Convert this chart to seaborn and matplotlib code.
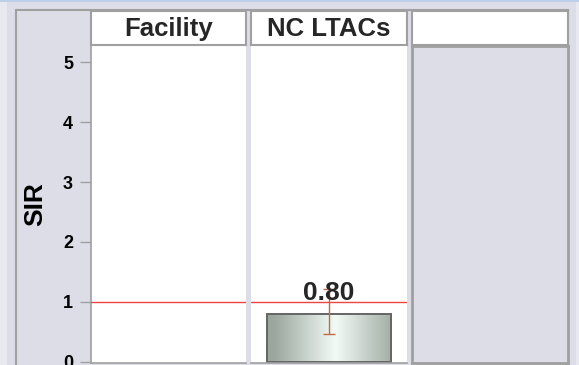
import numpy as np
import matplotlib
matplotlib.use("Agg")
import matplotlib.pyplot as plt
from matplotlib.patches import Rectangle
from matplotlib.colors import LinearSegmentedColormap
import seaborn as sns

# values
panels = ["Facility", "NC LTACs", ""]
sir = [np.nan, 0.80, np.nan]
ci_low = [np.nan, 0.47, np.nan]
ci_high = [np.nan, 1.22, np.nan]
sir_labels = ["", "0.80", ""]
yticks = [0, 1, 2, 3, 4, 5]
ref_line = 1.0

W, H = 579, 365
sns.set_theme(style="white")
plt.rcParams["font.family"] = ["Liberation Sans", "DejaVu Sans"]

BG = "#DDDDE8"
GREY = "#A0A0A0"

fig = plt.figure(figsize=(W / 100, H / 100), dpi=100, facecolor=BG)


def box(x0, y0, x1, y1):
    # pixel box with top-left origin -> figure fraction rect
    return [x0 / W, 1 - y1 / H, (x1 - x0) / W, (y1 - y0) / H]


def deco(x0, y0, x1, y1, **kw):
    r = Rectangle((x0 / W, 1 - y1 / H), (x1 - x0) / W, (y1 - y0) / H,
                  transform=fig.transFigure, zorder=-1, **kw)
    fig.patches.append(r)


# window chrome around the graph
deco(0, 0, 7, H, facecolor="#E8E8F0", edgecolor="none")
deco(0, 0, W, 2, facecolor="#BCD0EC", edgecolor="none")
deco(576, 2, W, H, facecolor="#E8E8F0", edgecolor="none")
deco(16, 10, 568, H + 5, facecolor="none", edgecolor=GREY, lw=1.5)

xpos = [(91, 246), (251, 407), (412, 568)]
grad_cmap = LinearSegmentedColormap.from_list("bar", ["#F2FAF5", "#9AA69E"])

axes = []
for i, name in enumerate(panels):
    x0, x1 = xpos[i]
    ax = fig.add_axes(box(x0, 46, x1, 363))
    axes.append(ax)
    if not np.isnan(sir[i]):
        sns.barplot(x=[name], y=[sir[i]], ax=ax, width=0.8,
                    color="#DDE5E0", edgecolor="#656565", linewidth=1.4)
        bar = ax.patches[0]
        bx, bw, bh = bar.get_x(), bar.get_width(), bar.get_height()
        grad = np.abs(np.linspace(-1, 1, 256) - 0.1)[None, :]
        img = ax.imshow(grad, extent=[bx, bx + bw, 0, bh], aspect="auto",
                        cmap=grad_cmap, vmin=0, vmax=1, zorder=1)
        img.set_clip_path(bar)
        bar.set_facecolor("none")
        bar.set_zorder(2)
        ax.errorbar(0, sir[i], yerr=[[sir[i] - ci_low[i]], [ci_high[i] - sir[i]]],
                    fmt="none", ecolor="#C06A48", elinewidth=1, capsize=4.5,
                    capthick=1, zorder=4)
        ax.text(0, 1.03, sir_labels[i], ha="center", va="baseline",
                fontsize=19, fontweight="bold", zorder=5)
    ax.set_xlim(-0.5, 0.5)
    ax.set_ylim(-0.02, 5.27)
    ax.set_xticks([])
    ax.set_xlabel("")
    ax.set_ylabel("")

    if i < 2:
        ax.set_facecolor("white")
        ax.axhline(ref_line, color="#EC4440", lw=1, zorder=3)
        for s in ["top", "right"]:
            ax.spines[s].set_visible(False)
        ax.spines["left"].set_visible(i == 0)
        ax.spines["left"].set_color(GREY)
        ax.spines["bottom"].set_color(GREY)
        ax.spines["left"].set_linewidth(1.2)
        ax.spines["bottom"].set_linewidth(1.2)
    else:
        ax.set_facecolor(BG)
        for s in ax.spines.values():
            s.set_color(GREY)
            s.set_linewidth(2)

    if i == 0:
        ax.set_yticks(yticks)
        ax.tick_params(axis="y", left=True, length=8, width=1, color=GREY,
                       labelsize=13, pad=5, labelcolor="black")
        for t in ax.get_yticklabels():
            t.set_fontweight("bold")
        ax.set_ylabel("SIR", fontsize=19, fontweight="bold", color="black")
        ax.yaxis.set_label_coords(-0.28, 0.5)
    else:
        ax.set_yticks([])

    # header strip
    hax = fig.add_axes(box(x0, 11, x1, 45))
    hax.set_facecolor("white")
    hax.set_xticks([])
    hax.set_yticks([])
    for s in hax.spines.values():
        s.set_color(GREY)
        s.set_linewidth(1.5)
    hax.text(0.5, 0.48, name, ha="center", va="center", fontsize=18.5,
             fontweight="bold", transform=hax.transAxes)

fig.savefig("out.png", dpi=100, facecolor=BG)
